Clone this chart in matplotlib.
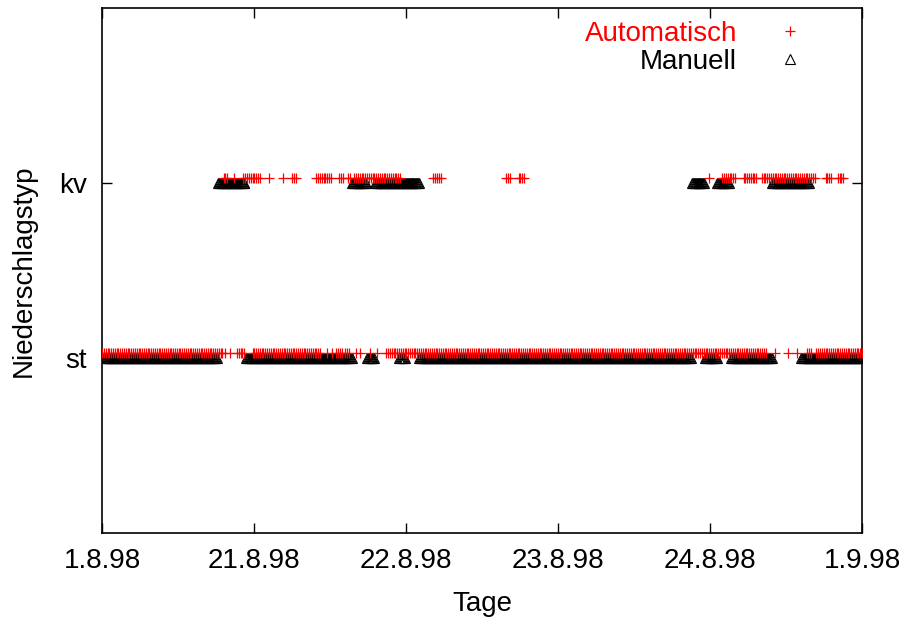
import matplotlib.pyplot as plt
import matplotlib.transforms as mtransforms
import numpy

plt.rcParams['font.family'] = ['Liberation Sans', 'DejaVu Sans']

# x axis: day index, y axis: precipitation type (st = stratiform, kv = convective)
day_labels = ["1.8.98", "21.8.98", "22.8.98", "23.8.98", "24.8.98", "1.9.98"]
type_labels = ["st", "kv"]
ST = 1
KV = 2

# observation runs as (start, end) in day units, one entry per contiguous stretch
auto_st_runs = [(0.0, 0.79), (0.81, 0.81), (0.84, 0.84), (0.888, 0.93),
                (0.99, 1.43), (1.48, 1.48), (1.51, 1.51), (1.54, 1.57),
                (1.60, 1.63), (1.67, 1.67), (1.70, 1.70), (1.76, 1.76),
                (1.81, 1.81), (1.87, 4.36), (4.43, 4.43), (4.51, 4.51),
                (4.57, 4.57), (4.64, 4.66), (4.70, 5.0)]
auto_kv_runs = [(0.80, 0.82), (0.87, 0.87), (0.93, 1.04), (1.10, 1.10),
                (1.19, 1.19), (1.25, 1.27), (1.41, 1.51), (1.56, 1.58),
                (1.62, 1.63), (1.66, 1.96), (2.18, 2.23), (2.66, 2.68),
                (2.74, 2.78), (3.99, 3.99), (4.08, 4.16), (4.22, 4.30),
                (4.34, 4.69), (4.76, 4.79), (4.84, 4.88)]
manual_st_runs = [(0.013, 0.76), (0.947, 1.645), (1.743, 1.789), (1.954, 1.987),
                  (2.086, 3.875), (3.967, 4.046), (4.138, 4.408), (4.60, 5.0)]
manual_kv_runs = [(0.763, 0.934), (1.645, 1.737), (1.796, 2.086), (3.882, 3.961),
                  (4.046, 4.125), (4.408, 4.651)]


def expand(runs, step):
    xs = []
    for a, b in runs:
        xs += list(numpy.arange(a, b + step / 2, step))
    return numpy.array(xs)


auto_st = expand(auto_st_runs, 0.012)
auto_kv = expand(auto_kv_runs, 0.012)
man_st = expand(manual_st_runs, 0.006)
man_kv = expand(manual_kv_runs, 0.006)

auto_x = numpy.concatenate([auto_st, auto_kv])
auto_y = numpy.concatenate([[ST] * len(auto_st), [KV] * len(auto_kv)])
man_x = numpy.concatenate([man_st, man_kv])
man_y = numpy.concatenate([[ST] * len(man_st), [KV] * len(man_kv)])

fig = plt.figure(figsize=(9.03, 6.18), dpi=100)
ax = fig.add_axes([0.113, 0.1375, 0.8417, 0.8495])

# gnuplot draws the "+" a few pixels above the triangle centre
up = mtransforms.offset_copy(ax.transData, fig=fig, x=0, y=3.3, units='points')
ax.plot(auto_x, auto_y, '+', color='red', ms=7, mew=0.9,
        transform=up, label='Automatisch', zorder=3)
ax.plot(man_x, man_y, '^', mfc='none', mec='black', ms=6.5, mew=0.8,
        label='Manuell', zorder=2)

ax.set_xlim(0, 5)
ax.set_ylim(0, 3)
ax.set_xticks(range(len(day_labels)))
ax.set_xticklabels(day_labels)
ax.set_yticks([ST, KV])
ax.set_yticklabels(type_labels)
ax.tick_params(labelsize=20, direction='in', length=7, width=1, pad=11,
               top=True, right=True, labeltop=False, labelright=False)
for s in ax.spines.values():
    s.set_linewidth(1.2)
ax.set_xlabel("Tage", fontsize=20, labelpad=12)
ax.set_ylabel("Niederschlagstyp", fontsize=20, labelpad=16)

leg = ax.legend(loc='upper right', bbox_to_anchor=(0.958, 1.012),
                frameon=False, markerfirst=False, fontsize=20,
                handlelength=1.5, handletextpad=1.15, labelspacing=0.05,
                borderpad=0.2)
leg.get_texts()[0].set_color('red')

fig.savefig("out.png", dpi=100)
